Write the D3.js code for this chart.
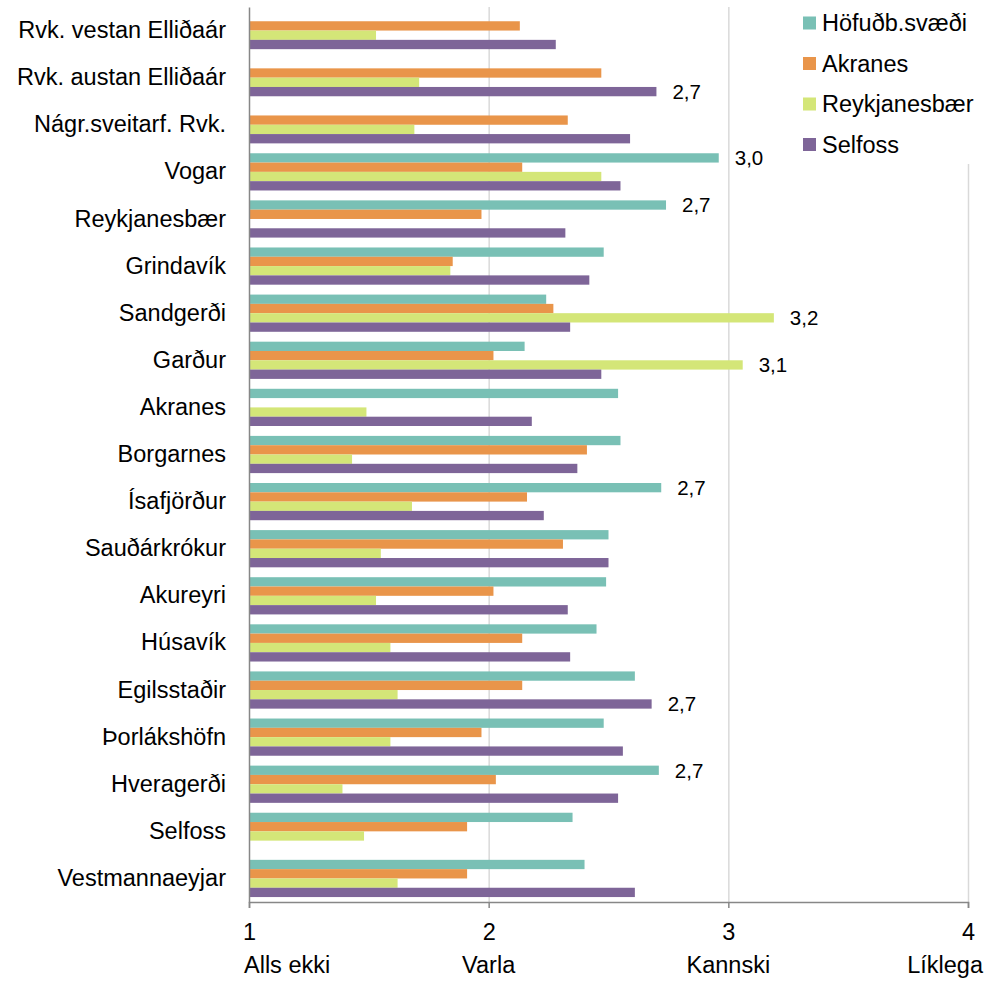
<!DOCTYPE html>
<html>
<head>
<meta charset="utf-8">
<script src="https://cdn.jsdelivr.net/npm/d3@7"></script>
<style>
  body { margin: 0; background: #fff; }
  svg text { font-family: "Liberation Sans", Arial, sans-serif; fill: #000; }
</style>
</head>
<body>
<div class="container"></div>
<script>
const w = 1006
const h = 981

const categories = ["Rvk. vestan Elliðaár", "Rvk. austan Elliðaár", "Nágr.sveitarf. Rvk.", "Vogar",
  "Reykjanesbær", "Grindavík", "Sandgerði", "Garður", "Akranes", "Borgarnes", "Ísafjörður",
  "Sauðárkrókur", "Akureyri", "Húsavík", "Egilsstaðir", "Þorlákshöfn", "Hveragerði", "Selfoss",
  "Vestmannaeyjar"]

const seriesNames = ["Höfuðb.svæði", "Akranes", "Reykjanesbær", "Selfoss"]
const colors = ["#79c0b5", "#e9954a", "#d4e678", "#7e6598"]

// null = no answer for that group
const hofudb      = [null, null, null, 2.96, 2.74, 2.48, 2.24, 2.15, 2.54, 2.55, 2.72, 2.50, 2.49, 2.45, 2.61, 2.48, 2.71, 2.35, 2.40]
const akranes     = [2.13, 2.47, 2.33, 2.14, 1.97, 1.85, 2.27, 2.02, null, 2.41, 2.16, 2.31, 2.02, 2.14, 2.14, 1.97, 2.03, 1.91, 1.91]
const reykjanesb  = [1.53, 1.71, 1.69, 2.47, null, 1.84, 3.19, 3.06, 1.49, 1.43, 1.68, 1.55, 1.53, 1.59, 1.62, 1.59, 1.39, 1.48, 1.62]
const selfoss     = [2.28, 2.70, 2.59, 2.55, 2.32, 2.42, 2.34, 2.47, 2.18, 2.37, 2.23, 2.50, 2.33, 2.34, 2.68, 2.56, 2.54, null, 2.61]

const xTicks = [1, 2, 3, 4]
const xTickNames = ["Alls ekki", "Varla", "Kannski", "Líklega"]

const allSeries = [hofudb, akranes, reykjanesb, selfoss]
const rows = []
categories.forEach((c, i) => {
  allSeries.forEach((s, j) => {
    if (s[i] !== null) rows.push({ cat: c, series: j, value: s[i] })
  })
})

const plotLeft = 249, plotRight = 968, plotTop = 7, plotBottom = 902
const fontSize = "23.5px"

const xScale = d3.scaleLinear().domain([1, 4]).range([plotLeft, plotRight])
const yScale = d3.scaleBand().domain(categories).range([plotTop, plotBottom])
                 .paddingInner(0.21).paddingOuter(0.105)
const subScale = d3.scaleBand().domain(d3.range(seriesNames.length)).range([0, yScale.bandwidth()])

const svg = d3.select(".container")
              .append("svg")
              .attr("width", w)
              .attr("height", h)

// vertical gridlines
svg.append("g")
   .attr("transform", `translate(0, ${plotBottom})`)
   .call(d3.axisBottom(xScale).tickValues([2, 3, 4]).tickSize(-(plotBottom - plotTop)).tickFormat(""))
   .call(g => g.select(".domain").remove())
   .call(g => g.selectAll("line").attr("stroke", "#d9d9d9").attr("stroke-width", 1.5))

// bars
svg.selectAll("rect.bar")
   .data(rows)
   .enter()
   .append("rect")
   .attr("class", "bar")
   .attr("x", xScale(1))
   .attr("y", d => yScale(d.cat) + subScale(d.series))
   .attr("width", d => xScale(d.value) - xScale(1))
   .attr("height", subScale.bandwidth())
   .attr("fill", d => colors[d.series])

// value labels on the high ones
const fmt = v => d3.format(".1f")(v).replace(".", ",")
svg.selectAll("text.val")
   .data(rows.filter(d => d.value >= 2.65))
   .enter()
   .append("text")
   .attr("class", "val")
   .attr("x", d => xScale(d.value) + 16)
   .attr("y", d => yScale(d.cat) + subScale(d.series) + subScale.bandwidth() / 2)
   .attr("dy", "0.36em")
   .style("font-size", "20.5px")
   .text(d => fmt(d.value))

// x axis
const xAxis = svg.append("g")
   .attr("transform", `translate(0, ${plotBottom})`)
   .call(d3.axisBottom(xScale).tickValues(xTicks).tickSize(6).tickPadding(15).tickFormat(d3.format("d")))
xAxis.select(".domain").attr("stroke", "#878787").attr("stroke-width", 1.5)
xAxis.selectAll(".tick line").attr("stroke", "#878787").attr("stroke-width", 1.5)
xAxis.selectAll(".tick text").style("font-size", fontSize).attr("fill", "#000")

svg.selectAll("text.xname")
   .data(xTicks)
   .enter()
   .append("text")
   .attr("class", "xname")
   .attr("x", (d, i) => i === 0 ? xScale(d) - 5 : i === xTicks.length - 1 ? xScale(d) + 15 : xScale(d))
   .attr("y", 973)
   .attr("text-anchor", (d, i) => i === 0 ? "start" : i === xTicks.length - 1 ? "end" : "middle")
   .style("font-size", fontSize)
   .text((d, i) => xTickNames[i])

// y axis
const yAxis = svg.append("g")
   .attr("transform", `translate(${plotLeft}, 0)`)
   .call(d3.axisLeft(yScale).tickSize(0).tickPadding(23))
yAxis.select(".domain").attr("stroke", "#878787").attr("stroke-width", 1.5)
yAxis.selectAll(".tick text").style("font-size", fontSize).attr("fill", "#000")

// legend
const legend = svg.append("g")
legend.append("rect")
      .attr("x", 790).attr("y", 0).attr("width", 216).attr("height", 164)
      .attr("fill", "#fff")
seriesNames.forEach((name, i) => {
  const y = 23 + i * 40.5
  legend.append("rect")
        .attr("x", 803).attr("y", y - 6.5).attr("width", 13).attr("height", 13)
        .attr("fill", colors[i])
  legend.append("text")
        .attr("x", 822).attr("y", y).attr("dy", "0.36em")
        .style("font-size", fontSize)
        .text(name)
})
</script>
</body>
</html>
